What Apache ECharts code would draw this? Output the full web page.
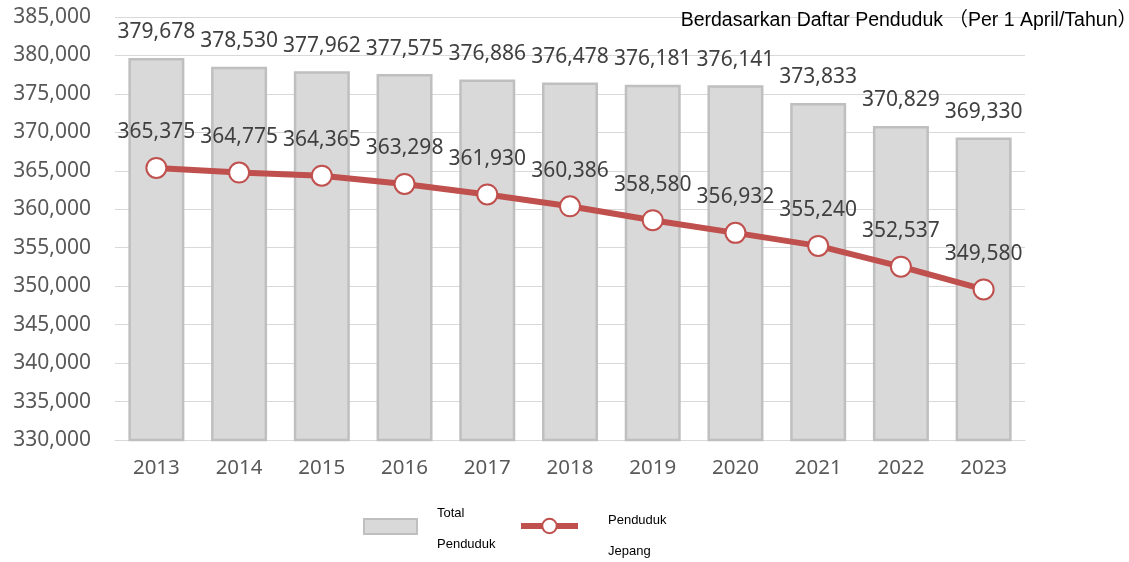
<!DOCTYPE html>
<html>
<head>
<meta charset="utf-8">
<script src="https://cdn.jsdelivr.net/npm/echarts@6/dist/echarts.min.js"></script>
<style>
  html, body { margin: 0; padding: 0; background: #fff; }
</style>
</head>
<body>
<div id="container" style="width:1129px; height:562px"></div>
<script>
var years = ["2013", "2014", "2015", "2016", "2017", "2018", "2019", "2020", "2021", "2022", "2023"];
var totalPenduduk = [379678, 378530, 377962, 377575, 376886, 376478, 376181, 376141, 373833, 370829, 369330];
var pendudukJepang = [365375, 364775, 364365, 363298, 361930, 360386, 358580, 356932, 355240, 352537, 349580];

var fmt = function (v) { return Number(v).toLocaleString("en-US"); };
var numFont = "'Noto Sans', 'Open Sans', sans-serif";
var legendFont = "'Liberation Sans', Arial, sans-serif";

var option = {
  backgroundColor: "#fff",
  animation: false,
  title: {
    text: "Berdasarkan Daftar Penduduk （Per 1 April/Tahun）",
    right: -8,
    top: 11,
    padding: 0,
    textStyle: {
      color: "#000",
      fontFamily: "'Liberation Sans', Arial, 'Noto Sans CJK SC', sans-serif",
      fontWeight: "normal",
      fontSize: 19.5
    }
  },
  legend: [
    {
      data: [{ name: "Total Penduduk", icon: "rect" }],
      left: 363,
      top: 493,
      padding: 0,
      itemWidth: 53,
      itemHeight: 15,
      formatter: function () { return "{s| }\n{t|Total}\n{t|Penduduk}"; },
      textStyle: {
        padding: [0, 0, 0, 15],
        rich: {
          s: { fontSize: 5, lineHeight: 5 },
          t: { color: "#000", fontFamily: legendFont, fontSize: 13, lineHeight: 31 }
        }
      }
    },
    {
      data: ["Penduduk Jepang"],
      left: 518,
      top: 490,
      padding: 0,
      itemWidth: 57,
      itemHeight: 18,
      lineStyle: { width: 6, color: "#c0504d" },
      formatter: function () { return "{s| }\n{t|Penduduk}\n{t|Jepang}"; },
      textStyle: {
        padding: [0, 0, 0, 25],
        rich: {
          s: { fontSize: 10, lineHeight: 19 },
          t: { color: "#000", fontFamily: legendFont, fontSize: 13, lineHeight: 31 }
        }
      }
    }
  ],
  grid: {
    left: 115,
    right: 104,
    top: 17,
    bottom: 122
  },
  xAxis: {
    type: "category",
    data: years,
    axisTick: { show: false },
    axisLine: { lineStyle: { color: "#d9d9d9", width: 1 } },
    axisLabel: {
      color: "#595959",
      fontFamily: numFont,
      fontSize: 20.5,
      margin: 18
    }
  },
  yAxis: {
    type: "value",
    min: 330000,
    max: 385000,
    interval: 5000,
    axisLine: { show: false },
    axisTick: { show: false },
    splitLine: { lineStyle: { color: "#d9d9d9", width: 1 } },
    axisLabel: {
      color: "#595959",
      fontFamily: numFont,
      fontSize: 21,
      margin: 24,
      formatter: fmt
    }
  },
  series: [
    {
      name: "Total Penduduk",
      type: "bar",
      data: totalPenduduk,
      barWidth: 56,
      itemStyle: {
        color: "#d9d9d9",
        borderColor: "#bfbfbf",
        borderWidth: 2.5
      },
      label: {
        show: true,
        position: "top",
        distance: 15,
        color: "#404040",
        fontFamily: numFont,
        fontSize: 21,
        formatter: function (p) { return fmt(p.value); }
      }
    },
    {
      name: "Penduduk Jepang",
      type: "line",
      data: pendudukJepang,
      z: 5,
      symbol: "circle",
      symbolSize: 20,
      lineStyle: { color: "#c0504d", width: 6 },
      itemStyle: {
        color: "#fff",
        borderColor: "#c0504d",
        borderWidth: 2
      },
      label: {
        show: true,
        position: "top",
        distance: 14,
        color: "#404040",
        fontFamily: numFont,
        fontSize: 21,
        formatter: function (p) { return fmt(p.value); }
      }
    }
  ]
};

var myChart = echarts.init(document.getElementById("container"));
myChart.setOption(option);
</script>
</body>
</html>
